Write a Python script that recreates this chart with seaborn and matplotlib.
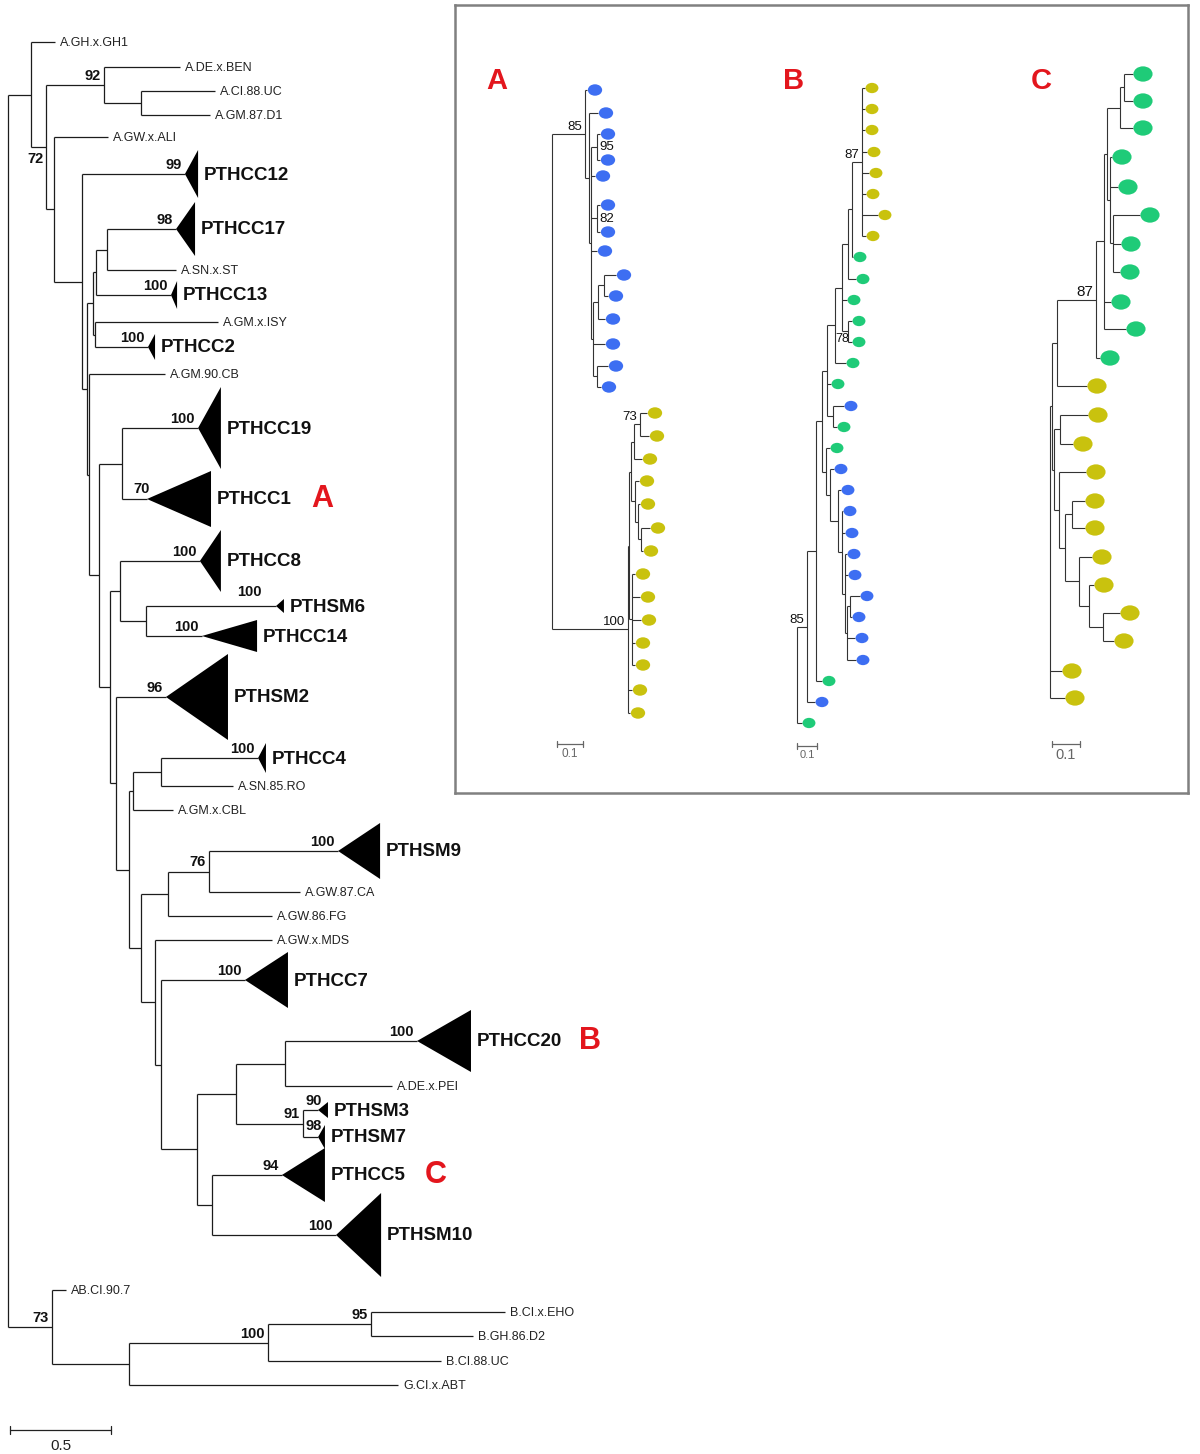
import numpy as np
import pandas as pd
import matplotlib
matplotlib.use("Agg")
import matplotlib.pyplot as plt
import seaborn as sns
from matplotlib.path import Path

sns.set_theme(style="white")
plt.rcParams["font.family"] = ["Liberation Sans", "DejaVu Sans"]

# ---------------- main tree (branch lengths in substitutions/site) ----------------
taxa = ['A.GH.x.GH1', 'A.DE.x.BEN', 'A.CI.88.UC', 'A.GM.87.D1', 'A.GW.x.ALI', 'PTHCC12',
        'PTHCC17', 'A.SN.x.ST', 'PTHCC13', 'A.GM.x.ISY', 'PTHCC2', 'A.GM.90.CB', 'PTHCC19',
        'PTHCC1', 'PTHCC8', 'PTHSM6', 'PTHCC14', 'PTHSM2', 'PTHCC4', 'A.SN.85.RO', 'A.GM.x.CBL',
        'PTHSM9', 'A.GW.87.CA', 'A.GW.86.FG', 'A.GW.x.MDS', 'PTHCC7', 'PTHCC20', 'A.DE.x.PEI',
        'PTHSM3', 'PTHSM7', 'PTHCC5', 'PTHSM10', 'AB.CI.90.7', 'B.CI.x.EHO', 'B.GH.86.D2',
        'B.CI.88.UC', 'G.CI.x.ABT']
taxa_row = [42, 67, 91, 115, 137, 174, 229, 270, 295, 322, 347, 374, 428, 499, 561, 606, 636,
            697, 758, 786, 810, 851, 892, 916, 940, 980, 1041, 1086, 1110, 1137, 1175, 1235,
            1290, 1312, 1336, 1361, 1385]
taxa_depth = [0.233, 0.851, 1.025, 1.000, 0.495, 0.876, 0.832, 0.830, 0.807, 1.040, 0.693,
              0.777, 0.941, 0.688, 0.950, 1.327, 0.960, 0.782, 1.238, 1.114, 0.817, 1.634,
              1.446, 1.307, 1.307, 1.173, 2.025, 1.901, 1.535, 1.535, 1.356, 1.624, 0.287,
              2.460, 2.302, 2.144, 1.931]

clades = ['PTHCC12', 'PTHCC17', 'PTHCC13', 'PTHCC2', 'PTHCC19', 'PTHCC1', 'PTHCC8', 'PTHSM6',
          'PTHCC14', 'PTHSM2', 'PTHCC4', 'PTHSM9', 'PTHCC7', 'PTHCC20', 'PTHSM3', 'PTHSM7',
          'PTHCC5', 'PTHSM10']
clade_tip = [0.941, 0.926, 0.837, 0.728, 1.054, 1.005, 1.054, 1.366, 1.233, 1.089, 1.277,
             1.842, 1.386, 2.292, 1.584, 1.569, 1.569, 1.847]
clade_half = [24, 27, 14, 13, 41, 28, 31, 7, 16, 43, 15, 28, 28, 31, 8, 12, 27, 42]

nodes = ['root', 'N1', 'N2', 'n104', 'n141u', 'N3', 'N4', 'n88', 'n93', 'n96', 'n107', 'n95',
         'n89', 'n99', 'n122', 'n110', 'n120', 'n146', 'n116', 'n129', 'n133', 'n161a', 'n141',
         'n168', 'n209', 'n155', 'n161b', 'n197', 'n236', 'n285', 'n303', 'n212',
         'O1', 'O2', 'O3', 'O4']
node_depth = [0.0, 0.114, 0.188, 0.475, 0.658, 0.228, 0.366, 0.391, 0.421, 0.436, 0.490, 0.431,
              0.401, 0.450, 0.564, 0.505, 0.554, 0.683, 0.535, 0.599, 0.619, 0.757, 0.658,
              0.792, 0.995, 0.728, 0.757, 0.936, 1.129, 1.371, 1.460, 1.010,
              0.218, 0.599, 1.287, 1.797]
main_children = {
    'root': ['N1', 'O1'], 'N1': ['A.GH.x.GH1', 'N2'], 'N2': ['n104', 'N3'],
    'n104': ['A.DE.x.BEN', 'n141u'], 'n141u': ['A.CI.88.UC', 'A.GM.87.D1'],
    'N3': ['A.GW.x.ALI', 'N4'], 'N4': ['PTHCC12', 'n88'], 'n88': ['n93', 'n89'],
    'n93': ['n96', 'n95'], 'n96': ['n107', 'PTHCC13'], 'n107': ['PTHCC17', 'A.SN.x.ST'],
    'n95': ['A.GM.x.ISY', 'PTHCC2'], 'n89': ['A.GM.90.CB', 'n99'], 'n99': ['n122', 'n110'],
    'n122': ['PTHCC19', 'PTHCC1'], 'n110': ['n120', 'n116'], 'n120': ['PTHCC8', 'n146'],
    'n146': ['PTHSM6', 'PTHCC14'], 'n116': ['PTHSM2', 'n129'], 'n129': ['n133', 'n141'],
    'n133': ['n161a', 'A.GM.x.CBL'], 'n161a': ['PTHCC4', 'A.SN.85.RO'],
    'n141': ['n168', 'n155'], 'n168': ['n209', 'A.GW.86.FG'], 'n209': ['PTHSM9', 'A.GW.87.CA'],
    'n155': ['A.GW.x.MDS', 'n161b'], 'n161b': ['PTHCC7', 'n197'], 'n197': ['n236', 'n212'],
    'n236': ['n285', 'n303'], 'n285': ['PTHCC20', 'A.DE.x.PEI'], 'n303': ['PTHSM3', 'PTHSM7'],
    'n212': ['PTHCC5', 'PTHSM10'],
    'O1': ['AB.CI.90.7', 'O2'], 'O2': ['O3', 'G.CI.x.ABT'], 'O3': ['O4', 'B.CI.88.UC'],
    'O4': ['B.CI.x.EHO', 'B.GH.86.D2'],
}
support_at = ['n104', 'N2', 'PTHCC12', 'PTHCC17', 'PTHCC13', 'PTHCC2', 'PTHCC19', 'PTHCC1',
              'PTHCC8', 'PTHSM6', 'PTHCC14', 'PTHSM2', 'PTHCC4', 'n209', 'PTHSM9', 'PTHCC7',
              'PTHCC20', 'n303', 'PTHSM3', 'PTHSM7', 'PTHCC5', 'PTHSM10', 'O1', 'O3', 'O4']
support_val = ['92', '72', '99', '98', '100', '100', '100', '70', '100', '100', '100', '96',
               '100', '76', '100', '100', '100', '91', '90', '98', '94', '100', '73', '100', '95']
marked = ['A', 'B', 'C']
marked_after = ['PTHCC1', 'PTHCC20', 'PTHCC5']

# ---------------- inset trees (inset panel units) ----------------
a_rows = [90, 113, 134, 160, 176, 205, 232, 251, 275, 296, 319, 344, 366, 387,
          413, 436, 459, 481, 504, 528, 551, 574, 597, 620, 643, 665, 690, 713]
a_dot_x = [595, 606, 608, 608, 603, 608, 608, 605, 624, 616, 613, 613, 616, 609,
           655, 657, 650, 647, 648, 658, 651, 643, 648, 649, 643, 643, 640, 638]
a_group = ['blue'] * 14 + ['yellow'] * 14
a_children = {
    'A': ['Ab', 'Ay'], 'Ab': ['a0', 'Ab1'], 'Ab1': ['a1', 'Ab2'],
    'Ab2': ['Ab95', 'a4', 'Ab82', 'a7', 'Ab3'], 'Ab95': ['a2', 'a3'], 'Ab82': ['a5', 'a6'],
    'Ab3': ['Ab4', 'a11', 'Ab6'], 'Ab4': ['Ab5', 'a10'], 'Ab5': ['a8', 'a9'], 'Ab6': ['a12', 'a13'],
    'Ay': ['Ay1', 'a26', 'a27'], 'Ay1': ['Ay2', 'Ay5'], 'Ay2': ['Ay3', 'Ay4'],
    'Ay3': ['Ay73', 'a16'], 'Ay73': ['a14', 'a15'], 'Ay4': ['a17', 'Ay4b'],
    'Ay4b': ['a18', 'Ay4c'], 'Ay4c': ['a19', 'a20'], 'Ay5': ['a21', 'a22', 'a23', 'a24', 'a25'],
}
a_depth = {'A': 552, 'Ab': 585, 'Ab1': 589, 'Ab2': 591, 'Ab95': 597, 'Ab82': 597, 'Ab3': 593,
           'Ab4': 598, 'Ab5': 604, 'Ab6': 597, 'Ay': 628, 'Ay1': 629, 'Ay2': 631, 'Ay3': 634,
           'Ay73': 640, 'Ay4': 635, 'Ay4b': 638, 'Ay4c': 641, 'Ay5': 632}
a_support = {'Ab': '85', 'Ab95': '95', 'Ab82': '82', 'Ay73': '73', 'Ay': '100'}

b_rows = [88, 109, 130, 152, 173, 194, 215, 236, 257, 279, 300, 321, 342, 363, 384, 406,
          427, 448, 469, 490, 511, 533, 554, 575, 596, 617, 638, 660, 681, 702, 723]
b_dot_x = [872, 872, 872, 874, 876, 873, 885, 873, 860, 863, 854, 859, 859, 853,
           838, 851, 844, 837, 841, 848, 850, 852, 854, 855, 867, 859, 862, 863, 829, 822, 809]
b_group = (['yellow'] * 8 + ['green'] * 6 + ['green', 'blue', 'green', 'green']
           + ['blue'] * 10 + ['green', 'blue', 'green'])
b_children = {
    'B': ['B1', 'b30'], 'B1': ['B2', 'b29'], 'B2': ['B3', 'b28'], 'B3': ['B4', 'Bb'],
    'B4': ['B5', 'b14', 'B4b'], 'B4b': ['b15', 'b16'], 'B5': ['B6', 'b13'],
    'B6': ['B7', 'b10', 'B78'], 'B78': ['b11', 'b12'], 'B7': ['B8', 'b9'], 'B8': ['B87', 'b8'],
    'B87': ['b0', 'b1', 'b2', 'b3', 'b4', 'b5', 'b6', 'b7'],
    'Bb': ['b17', 'Bb1'], 'Bb1': ['b18', 'Bb2'], 'Bb2': ['b19', 'Bb3'],
    'Bb3': ['b20', 'b21', 'Bb4'], 'Bb4': ['b22', 'b23', 'Bb5'], 'Bb5': ['Bb6', 'b26', 'b27'],
    'Bb6': ['b24', 'b25'],
}
b_depth = {'B': 797, 'B1': 807, 'B2': 816, 'B3': 822, 'B4': 827, 'B4b': 833, 'B5': 835,
           'B6': 842, 'B78': 848, 'B7': 848, 'B8': 852, 'B87': 862, 'Bb': 826, 'Bb1': 830,
           'Bb2': 838, 'Bb3': 842, 'Bb4': 845, 'Bb5': 847, 'Bb6': 850}
b_support = {'B87': '87', 'B78': '78', 'B1': '85'}

c_rows = [74, 101, 128, 157, 187, 215, 244, 272, 302, 329, 358,
          386, 415, 444, 472, 501, 528, 557, 585, 613, 641, 671, 698]
c_dot_x = [1143, 1143, 1143, 1122, 1128, 1150, 1131, 1130, 1121, 1136, 1110,
           1097, 1098, 1083, 1096, 1095, 1095, 1102, 1104, 1130, 1124, 1072, 1075]
c_group = ['green'] * 11 + ['yellow'] * 12
c_children = {
    'C': ['C1', 'c21', 'c22'], 'C1': ['C2', 'C3'], 'C2': ['C87', 'c11'], 'C87': ['Cg1', 'c10'],
    'Cg1': ['Cg2', 'c8', 'c9'], 'Cg2': ['Cg4', 'Cg3'], 'Cg4': ['Cg5', 'c2'], 'Cg5': ['c0', 'c1'],
    'Cg3': ['c3', 'c4', 'Cg6'], 'Cg6': ['c5', 'c6', 'c7'], 'C3': ['Cy1', 'Cy2'],
    'Cy1': ['c12', 'c13'], 'Cy2': ['c14', 'Cy4'], 'Cy4': ['Cy3', 'Cy5'], 'Cy3': ['c15', 'c16'],
    'Cy5': ['c17', 'Cy6'], 'Cy6': ['c18', 'Cy7'], 'Cy7': ['c19', 'c20'],
}
c_depth = {'C': 1050, 'C1': 1052, 'C2': 1057, 'C87': 1096, 'Cg1': 1104, 'Cg2': 1107,
           'Cg4': 1120, 'Cg5': 1124, 'Cg3': 1110, 'Cg6': 1113, 'C3': 1054, 'Cy1': 1060,
           'Cy2': 1059, 'Cy4': 1065, 'Cy3': 1072, 'Cy5': 1079, 'Cy6': 1089, 'Cy7': 1103}
c_support = {'C87': '87'}

dot_colors = {'blue': '#3d6ef2', 'yellow': '#c9c20e', 'green': '#1fcb78'}
RED = '#e3161d'


def node_rows(children, rows):
    ys = dict(rows)

    def get(n):
        if n not in ys:
            cy = [get(c) for c in children[n]]
            ys[n] = (min(cy) + max(cy)) / 2
        return ys[n]
    for n in children:
        get(n)
    return ys


def draw_tree(ax, root, children, depth, ys, lw, color):
    stack = [(root, None)]
    while stack:
        n, px = stack.pop()
        x = depth[n]
        if px is not None:
            ax.plot([px, x], [ys[n], ys[n]], color=color, lw=lw, solid_capstyle='butt')
        if n in children:
            cy = [ys[c] for c in children[n]]
            ax.plot([x, x], [min(cy), max(cy)], color=color, lw=lw, solid_capstyle='butt')
            stack.extend((c, x) for c in children[n])


fig = plt.figure(figsize=(12, 14.54), dpi=100)

# ---------------- main tree ----------------
ax = fig.add_axes([0, 0, 1, 1])
px_per_unit = 202.0
ax.set_xlim(-8 / px_per_unit, 1192 / px_per_unit)
ax.set_ylim(1454, 0)
ax.axis('off')

depth = dict(zip(nodes, node_depth))
depth.update(zip(taxa, taxa_depth))
ys = node_rows(main_children, zip(taxa, taxa_row))
draw_tree(ax, 'root', main_children, depth, ys, 0.9, '#1c1c1c')

tip = dict(zip(clades, clade_tip))
half = dict(zip(clades, clade_half))
for name in taxa:
    y = ys[name]
    if name in tip:
        x0, x1, h = depth[name], tip[name], half[name]
        ax.fill([x0, x1, x1], [y, y - h, y + h], color='black', lw=0)
        ax.text(x1 + 6 / px_per_unit, y + 1, name, fontsize=13.5, fontweight='bold',
                va='center', ha='left', color='#111')
    else:
        ax.text(depth[name] + 5 / px_per_unit, y + 1, name, fontsize=9, va='center',
                ha='left', color='#222')

special = {'N2': (-2, 5, 'top'), 'PTHSM6': (-14, -10, 'baseline'),
           'PTHSM3': (4, -5, 'baseline'), 'PTHSM7': (4, -7, 'baseline'),
           'PTHCC1': (3, -6, 'baseline')}
for n, s in zip(support_at, support_val):
    dx, dy, va = special.get(n, (-3, -5, 'baseline'))
    ax.text(depth[n] + dx / px_per_unit, ys[n] + dy, s, fontsize=10.5, fontweight='bold',
            ha='right', va=va, color='#111')

letter_gap = {'PTHCC1': 100, 'PTHCC20': 108, 'PTHCC5': 100}
for letter, n in zip(marked, marked_after):
    ax.text(tip[n] + letter_gap[n] / px_per_unit, ys[n], letter, fontsize=22,
            fontweight='bold', color=RED, ha='left', va='center')

# scale bar 0.5
sb0, sb1, sby = 0.01, 0.51, 1430
ax.plot([sb0, sb1], [sby, sby], color='#222', lw=0.9)
for xx in (sb0, sb1):
    ax.plot([xx, xx], [sby - 4, sby + 4], color='#222', lw=0.9)
ax.text((sb0 + sb1) / 2, sby + 9, '0.5', fontsize=11, ha='center', va='top', color='#222')

# ---------------- inset ----------------
ins = fig.add_axes([455 / 1200, 1 - 793 / 1454, 733 / 1200, 788 / 1454])
ins.set_xlim(455, 1188)
ins.set_ylim(793, 5)
ins.set_xticks([])
ins.set_yticks([])
ins.set_facecolor('white')
for sp in ins.spines.values():
    sp.set_visible(True)
    sp.set_color('#808080')
    sp.set_linewidth(1.8)

circ = Path.unit_circle()
ell = Path(circ.vertices * np.array([1.25, 1.0]), circ.codes)

insets = [
    ('A', a_children, a_depth, a_rows, a_dot_x, a_group, a_support, 8, 106, 'a'),
    ('B', b_children, b_depth, b_rows, b_dot_x, b_group, b_support, 7, 86, 'b'),
    ('C', c_children, c_depth, c_rows, c_dot_x, c_group, c_support, 10, 190, 'c'),
]
for root, ch, dep, rows, dx_, grp, sup, gap, size, pre in insets:
    leaves = [f'{pre}{i}' for i in range(len(rows))]
    d = dict(dep)
    d.update({lf: x - gap for lf, x in zip(leaves, dx_)})
    yy = node_rows(ch, zip(leaves, rows))
    draw_tree(ins, root, ch, d, yy, 0.8, '#333333')
    df = pd.DataFrame({'x': dx_, 'y': rows, 'group': grp})
    sns.scatterplot(data=df, x='x', y='y', hue='group', palette=dot_colors, marker=ell,
                    s=size, linewidth=0, legend=False, ax=ins, zorder=3)
    for n, s in sup.items():
        if n in ('Ab95', 'Ab82'):
            ins.text(d[n] + 2, yy[n], s, fontsize=9.5, ha='left', va='center', color='#111')
        elif n == 'B78':
            ins.text(d[n] + 1, yy[n] + 8, s, fontsize=9, ha='right', va='center', color='#111')
        else:
            fs = 11 if root == 'C' else 9.5
            ins.text(d[n] - 3, yy[n] - 4, s, fontsize=fs, ha='right', va='baseline',
                     color='#111')

ins.set_xlabel('')
ins.set_ylabel('')

# inset letters
for letter, lx in zip(['A', 'B', 'C'], [497, 794, 1041]):
    ins.text(lx, 81, letter, fontsize=21, fontweight='bold', color=RED,
             ha='center', va='center')

# inset scale bars (0.1)
for x0, x1, yb, fs in [(557, 583, 744, 8.5), (797, 817, 746, 8), (1052, 1080, 744, 10.5)]:
    ins.plot([x0, x1], [yb, yb], color='#666', lw=0.9)
    for xx in (x0, x1):
        ins.plot([xx, xx], [yb - 3, yb + 3], color='#666', lw=0.9)
    ins.text((x0 + x1) / 2, yb + 4, '0.1', fontsize=fs, ha='center', va='top', color='#666')

fig.savefig('out.png', dpi=100, facecolor='white')
